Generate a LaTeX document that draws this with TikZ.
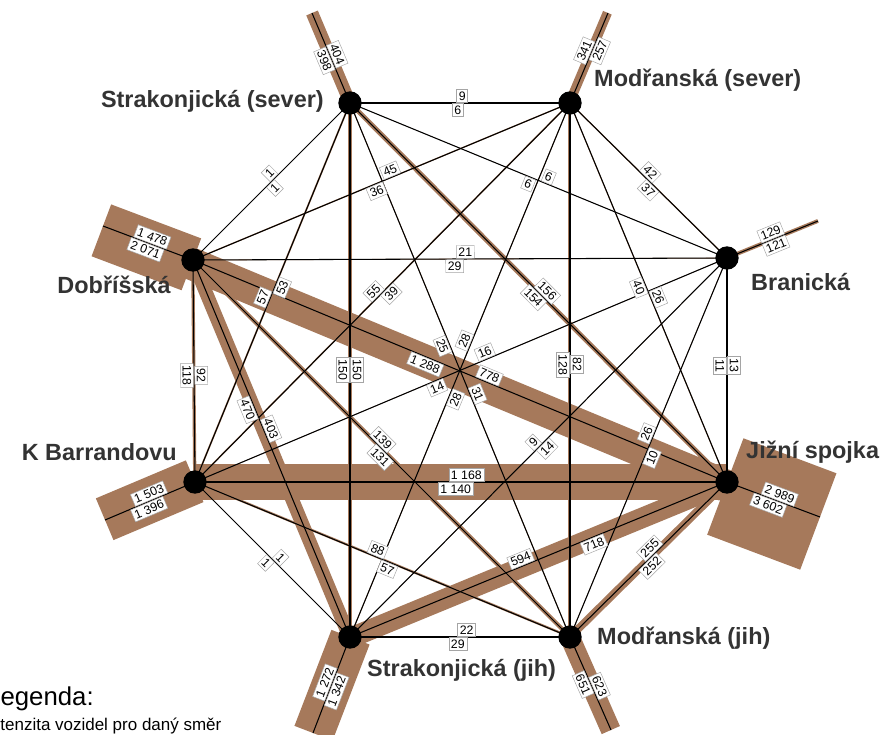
\documentclass[tikz,border=0pt]{standalone}
\usepackage{fontspec}
\setmainfont{Liberation Sans}
\usetikzlibrary{calc}
\definecolor{roadbrown}{RGB}{166,121,91}
\definecolor{boxgray}{RGB}{165,165,165}
\definecolor{sitegray}{RGB}{51,51,51}
\pgfdeclarelayer{bands}
\pgfdeclarelayer{labels}
\pgfsetlayers{bands,main,labels}
\pgfkeys{/pgf/number format/.cd, int detect, 1000 sep={\ }, assume math mode=true}

\newcommand{\flow}[6]{%
  \pgfmathsetmacro\wa{#3*0.01334}%
  \pgfmathsetmacro\wb{#5*0.01334}%
  \begin{pgfonlayer}{bands}
    \fill[roadbrown] ($(#1)!\wa pt!90:(#2)$) -- ($(#2)!\wa pt!-90:(#1)$)
      -- ($(#2)!\wb pt!90:(#1)$) -- ($(#1)!\wb pt!-90:(#2)$) -- cycle;
  \end{pgfonlayer}
  \draw[flowline] (#1) -- (#2);
  \begin{pgfonlayer}{labels}
    \path (#1) -- node[tally, pos=#4, above] {\pgfmathprintnumber{#3}}
      node[tally, pos=#6, below] {\pgfmathprintnumber{#5}} (#2);
  \end{pgfonlayer}}

\begin{document}
\begin{tikzpicture}[x=0.03cm, y=-0.03cm,
  flowline/.style={line width=0.9pt},
  tally/.style={draw=boxgray, fill=white, line width=0.4pt, inner sep=1.8pt, outer sep=0.6pt,
    font=\fontsize{10.5}{12}\selectfont, sloped},
  site/.style={circle, fill=black, minimum size=0.7cm, inner sep=0pt},
  sitename/.style={font=\bfseries\fontsize{20}{24}\selectfont, text=sitegray, inner sep=0pt}]
\useasboundingbox (0,0) rectangle (887,735);

\coordinate (ss) at (350,103);
\coordinate (ms) at (570,103);
\coordinate (d) at (193,260);
\coordinate (b) at (727,258);
\coordinate (kb) at (195,482);
\coordinate (js) at (727,482);
\coordinate (sj) at (350,637);
\coordinate (mj) at (570,637);

\coordinate (ssout) at (312,13);
\coordinate (msout) at (608,13);
\coordinate (dout) at (103,226);
\coordinate (bout) at (818,221);
\coordinate (kbout) at (105,520);
\coordinate (jsout) at (820,517);
\coordinate (sjout) at (313,733);
\coordinate (mjout) at (611,730);

\flow{ss}{ms}{9}{0.51}{6}{0.49}
\flow{d}{ss}{1}{0.52}{1}{0.49}
\flow{ss}{b}{6}{0.52}{6}{0.48}
\flow{kb}{ss}{57}{0.48}{53}{0.52}
\flow{ss}{js}{156}{0.51}{154}{0.50}
\flow{ss}{sj}{150}{0.50}{150}{0.50}
\flow{ss}{mj}{31}{0.55}{25}{0.45}
\flow{d}{ms}{45}{0.53}{36}{0.48}
\flow{ms}{b}{42}{0.48}{37}{0.53}
\flow{kb}{ms}{55}{0.49}{39}{0.51}
\flow{ms}{js}{26}{0.52}{40}{0.48}
\flow{sj}{ms}{28}{0.55}{28}{0.45}
\flow{ms}{mj}{82}{0.49}{128}{0.49}
\flow{d}{b}{21}{0.51}{29}{0.49}
\flow{d}{kb}{92}{0.52}{118}{0.52}
\flow{d}{js}{778}{0.55}{1288}{0.44}
\flow{d}{sj}{403}{0.455}{470}{0.39}
\flow{d}{mj}{139}{0.49}{131}{0.51}
\flow{kb}{b}{16}{0.55}{14}{0.45}
\flow{b}{js}{13}{0.48}{11}{0.48}
\flow{sj}{b}{9}{0.50}{14}{0.51}
\flow{mj}{b}{26}{0.53}{10}{0.48}
\flow{kb}{js}{1168}{0.51}{1140}{0.49}
\flow{kb}{sj}{1}{0.52}{1}{0.49}
\flow{kb}{mj}{88}{0.48}{57}{0.52}
\flow{sj}{js}{594}{0.46}{718}{0.64}
\flow{mj}{js}{255}{0.54}{252}{0.49}
\flow{sj}{mj}{22}{0.53}{29}{0.49}

\flow{ssout}{ss}{404}{0.49}{398}{0.50}
\flow{ms}{msout}{341}{0.55}{257}{0.61}
\flow{dout}{d}{1478}{0.52}{2071}{0.50}
\flow{b}{bout}{129}{0.51}{121}{0.51}
\flow{kbout}{kb}{1503}{0.52}{1396}{0.46}
\flow{js}{jsout}{2989}{0.54}{3602}{0.47}
\flow{sjout}{sj}{1272}{0.50}{1342}{0.46}
\flow{mj}{mjout}{623}{0.56}{651}{0.48}

\node[site] (ssdot) at (ss) {};
\node[site] (msdot) at (ms) {};
\node[site] (ddot) at (d) {};
\node[site] (bdot) at (b) {};
\node[site] (kbdot) at (kb) {};
\node[site] (jsdot) at (js) {};
\node[site] (sjdot) at (sj) {};
\node[site] (mjdot) at (mj) {};

\node[sitename, anchor=east] (ssname) at (324,101) {Strakonjická (sever)};
\node[sitename, anchor=west] (msname) at (594,80) {Modřanská (sever)};
\node[sitename, anchor=east] (dname) at (171,285) {Dobříšská};
\node[sitename, anchor=west] (bname) at (751,282) {Branická};
\node[sitename, anchor=east] (kbname) at (177,452) {K Barrandovu};
\node[sitename, anchor=west] (jsname) at (746,452) {Jižní spojka};
\node[sitename, anchor=west] (sjname) at (367,670) {Strakonjická (jih)};
\node[sitename, anchor=west] (mjname) at (597,638) {Modřanská (jih)};

\node[anchor=base west, inner sep=0pt, font=\fontsize{22}{26}\selectfont] (legtitle) at (-14,705) {Legenda:};
\node[anchor=base west, inner sep=0pt, font=\fontsize{14.5}{17}\selectfont] (legtext) at (-14,730) {Intenzita vozidel pro daný směr};
\end{tikzpicture}
\end{document}
